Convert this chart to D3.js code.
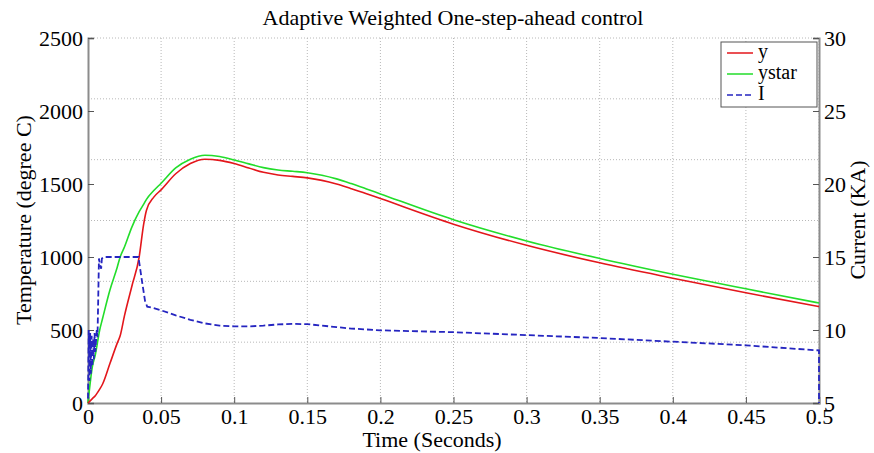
<!DOCTYPE html>
<html>
<head>
<meta charset="utf-8">
<script src="https://cdn.jsdelivr.net/npm/d3@7"></script>
<style>
  body { margin: 0; background: #fff; }
</style>
</head>
<body>
<div id="chart"></div>
<script>
/* Данные */
let timeTemp = [0, 0.003, 0.005, 0.008, 0.01, 0.015, 0.02, 0.022, 0.025, 0.03, 0.035, 0.038, 0.04, 0.045, 0.05,
  0.06, 0.07, 0.08, 0.09, 0.1, 0.11, 0.12, 0.13, 0.14, 0.15, 0.16, 0.17, 0.18, 0.19, 0.2,
  0.25, 0.3, 0.35, 0.4, 0.45, 0.5];

let yValues = [0, 30, 50, 95, 130, 270, 410, 460, 600, 800, 1000, 1220, 1320, 1410, 1460,
  1570, 1640, 1670, 1662, 1640, 1610, 1580, 1562, 1552, 1542, 1525, 1500, 1468, 1435, 1400,
  1225, 1080, 960, 855, 755, 660];

let ystarValues = [0, 250, 330, 500, 580, 774, 930, 1000, 1070, 1205, 1310, 1360, 1395, 1455, 1505,
  1610, 1670, 1697, 1688, 1665, 1638, 1612, 1596, 1587, 1577, 1560, 1535, 1503, 1468, 1432,
  1255, 1110, 990, 882, 782, 685];

let timeCur = [0, 0.0005, 0.001, 0.0015, 0.002, 0.0025, 0.003, 0.0035, 0.004, 0.0045, 0.005, 0.006, 0.0065,
  0.0075, 0.008, 0.009, 0.0095, 0.011, 0.0345, 0.037, 0.039, 0.0405, 0.045, 0.05, 0.06, 0.07, 0.08,
  0.09, 0.1, 0.11, 0.12, 0.13, 0.14, 0.15, 0.16, 0.17, 0.18, 0.2, 0.25, 0.3, 0.35, 0.4, 0.45, 0.5, 0.5];

let curValues = [5.3, 10, 6.5, 9.8, 7, 9.6, 7.5, 9.4, 8, 9.8, 8.5, 10, 9.5,
  14.9, 14.6, 14.2, 14.9, 15, 15, 13.3, 12, 11.6, 11.5, 11.35, 11.0, 10.7, 10.45,
  10.3, 10.25, 10.25, 10.3, 10.38, 10.42, 10.4, 10.3, 10.2, 10.1, 9.98, 9.85, 9.65, 9.45, 9.2, 8.95, 8.6, 5];

let xTicks = [0, 0.05, 0.1, 0.15, 0.2, 0.25, 0.3, 0.35, 0.4, 0.45, 0.5];
let tempTicks = [0, 500, 1000, 1500, 2000, 2500];
let curTicks = [5, 10, 15, 20, 25, 30];
let gridTicks = [0, 1, 2, 3, 4, 5, 6];

let seriesNames = ["y", "ystar", "I"];
let seriesColors = ["#e3161b", "#22dd2a", "#2525c0"];

let fontSerif = "'Liberation Serif'";

/* Размеры */
let width = 874,
  height = 453,
  plotLeft = 88,
  plotRight = 819,
  plotTop = 38,
  plotBottom = 403;

let x = d3.scaleLinear().domain([0, 0.5]).range([plotLeft, plotRight]);
let yTemp = d3.scaleLinear().domain([0, 2500]).range([plotBottom, plotTop]);
let yCur = d3.scaleLinear().domain([5, 30]).range([plotBottom, plotTop]);
let yGrid = d3.scaleLinear().domain([0, 6]).range([plotBottom, plotTop]);

let svg = d3.select("#chart")
  .append("svg")
  .attr("width", width)
  .attr("height", height);

/* Сетка */
svg.append("g")
  .selectAll("line")
  .data(xTicks.slice(1))
  .enter().append("line")
  .attr("x1", function(d) { return x(d); })
  .attr("x2", function(d) { return x(d); })
  .attr("y1", plotTop)
  .attr("y2", plotBottom)
  .attr("stroke", "#b8b8b8")
  .attr("stroke-width", 1)
  .attr("stroke-dasharray", "1,2");

svg.append("g")
  .selectAll("line")
  .data(gridTicks.slice(1))
  .enter().append("line")
  .attr("x1", plotLeft)
  .attr("x2", plotRight)
  .attr("y1", function(d) { return yGrid(d); })
  .attr("y2", function(d) { return yGrid(d); })
  .attr("stroke", "#b8b8b8")
  .attr("stroke-width", 1)
  .attr("stroke-dasharray", "1,2");

/* Оси */
let axisBottom = svg.append("g")
  .attr("transform", "translate(0," + plotBottom + ")")
  .call(d3.axisBottom(x).tickValues(xTicks).tickSize(-6).tickPadding(5).tickFormat(d3.format("")));

let axisLeft = svg.append("g")
  .attr("transform", "translate(" + plotLeft + ",0)")
  .call(d3.axisLeft(yTemp).tickValues(tempTicks).tickSize(-6).tickPadding(5).tickFormat(d3.format("d")));

let axisRight = svg.append("g")
  .attr("transform", "translate(" + plotRight + ",0)")
  .call(d3.axisRight(yCur).tickValues(curTicks).tickSize(-6).tickPadding(5).tickFormat(d3.format("d")));

[axisBottom, axisLeft, axisRight].forEach(function(a) {
  a.select(".domain").attr("stroke", "#8c8c8c").attr("stroke-width", 2);
  a.selectAll(".tick line").attr("stroke", "#555").attr("stroke-width", 1);
  a.selectAll(".tick text")
    .style("font-family", fontSerif)
    .style("font-size", "22px")
    .attr("fill", "#000");
});

/* Линии */
let lineTemp = d3.line()
  .x(function(d) { return x(d[0]); })
  .y(function(d) { return yTemp(d[1]); })
  .curve(d3.curveMonotoneX);

let lineCur = d3.line()
  .x(function(d) { return x(d[0]); })
  .y(function(d) { return yCur(d[1]); });

svg.append("path")
  .datum(d3.zip(timeTemp, ystarValues))
  .attr("fill", "none")
  .attr("stroke", seriesColors[1])
  .attr("stroke-width", 1.6)
  .attr("d", lineTemp);

svg.append("path")
  .datum(d3.zip(timeTemp, yValues))
  .attr("fill", "none")
  .attr("stroke", seriesColors[0])
  .attr("stroke-width", 1.6)
  .attr("d", lineTemp);

svg.append("path")
  .datum(d3.zip(timeCur, curValues))
  .attr("fill", "none")
  .attr("stroke", seriesColors[2])
  .attr("stroke-width", 1.8)
  .attr("stroke-dasharray", "6,3")
  .attr("d", lineCur);

/* Подписи */
function label(txt, transform) {
  return svg.append("text")
    .attr("transform", transform)
    .attr("text-anchor", "middle")
    .style("font-family", fontSerif)
    .style("font-size", "22px")
    .attr("fill", "#000")
    .text(txt);
}

label("Adaptive Weighted One-step-ahead control", "translate(453,25)");
label("Time (Seconds)", "translate(432,447)");
label("Temperature (degree C)", "translate(31,220) rotate(-90)");
label("Current (KA)", "translate(865,220) rotate(-90)");

/* Легенда */
let legend = svg.append("g")
  .attr("transform", "translate(721,42)");

legend.append("rect")
  .attr("width", 96)
  .attr("height", 65)
  .attr("fill", "#fff")
  .attr("stroke", "#555")
  .attr("stroke-width", 1);

let legendItem = legend.selectAll(".item")
  .data(seriesNames)
  .enter().append("g")
  .attr("class", "item")
  .attr("transform", function(d, i) { return "translate(0," + (11 + i * 21) + ")"; });

legendItem.append("line")
  .attr("x1", 6)
  .attr("x2", 32)
  .attr("stroke", function(d, i) { return seriesColors[i]; })
  .attr("stroke-width", 1.5)
  .attr("stroke-dasharray", function(d, i) { return i === 2 ? "6,3" : null; });

legendItem.append("text")
  .attr("x", 37)
  .attr("y", 5)
  .style("font-family", fontSerif)
  .style("font-size", "20px")
  .attr("fill", "#000")
  .text(function(d) { return d; });
</script>
</body>
</html>
